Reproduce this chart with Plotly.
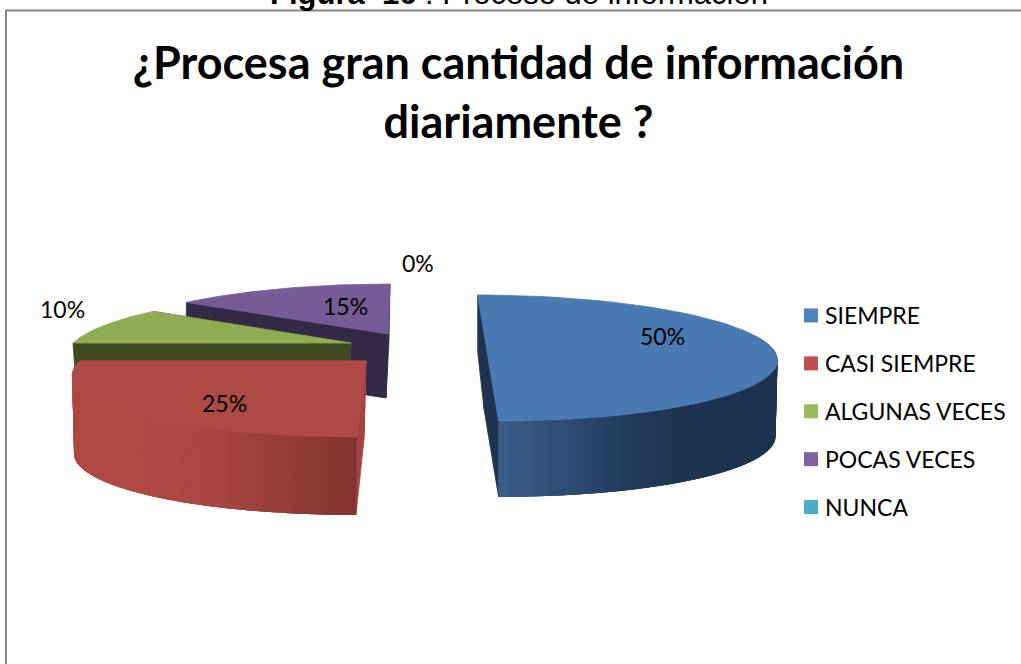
import math
import plotly.graph_objects as go

categories = ["SIEMPRE", "CASI SIEMPRE", "ALGUNAS VECES", "POCAS VECES", "NUNCA"]
values = [50, 25, 10, 15, 0]
legend_colors = ["#4f81bd", "#c0504d", "#9bbb59", "#8064a2", "#4bacc6"]
top_colors = ["#4a7ab2", "#ae4a45", "#8fac53", "#775b96", "#4bacc6"]
cut_colors = ["#1e3350", "#a5433f", "#3f4a20", "#352a46", "#1f4e5c"]
chart_title = "¿Procesa gran cantidad de información<br>diariamente ?"
figure_caption = "<b>Figura  16</b> : Proceso de información"

# Projection of the exploded 3-D pie (pixel-based canvas)
RY, P = 60.3, 0.206
APEX = [(486, 345, -10.0, 283), (366, 361, 7.15, 286), (351, 343, 5.0, 278), (388, 334, 2.4, 281), (388, 334, 0, 281)]
DEPTH = [76.0, 78.0, 30.0, 76.0, 76.0]
LOWER_DX = [(-2.0, 0.0), (-3.0, -1.0), (-2.0, 0.0), (0.0, -1.0), (0.0, 0.0)]
GRADIENT = {
    0: [(497, "#3c5f8c"), (640, "#21395a"), (680, "#1f3451"), (777, "#1e3350")],
    1: [(75, "#ae4843"), (200, "#ab4743"), (357, "#833331")],
}
LABEL_POS = [(662, 336), (224, 403), (62, 309), (345, 306), (418, 263)]


def depth(i, z):
    d = DEPTH[i]
    return d if z <= 0 else d - 19.0 * z


def pt(i, deg, lower=False):
    ax, ay, k, rx = APEX[i]
    th = math.radians(deg)
    X, Z = math.sin(th), math.cos(th)
    w = 1 + P * Z
    x = ax + (rx * X + k * Z) / w
    y = ay - RY * Z / w
    if lower:
        x += LOWER_DX[i][0] * X + LOWER_DX[i][1]
        y += depth(i, Z)
    return x, y


def hex2rgb(h):
    return tuple(int(h[j:j + 2], 16) for j in (1, 3, 5))


def grad_color(i, x):
    stops = GRADIENT[i]
    if x <= stops[0][0]:
        return stops[0][1]
    for (x0, c0), (x1, c1) in zip(stops, stops[1:]):
        if x <= x1:
            t = (x - x0) / (x1 - x0)
            a, b = hex2rgb(c0), hex2rgb(c1)
            return "rgb(%d,%d,%d)" % tuple(round(a[n] + (b[n] - a[n]) * t) for n in range(3))
    return stops[-1][1]


fig = go.Figure()


def poly(pts, color, lw=0.8):
    xs = [p[0] for p in pts] + [pts[0][0]]
    ys = [p[1] for p in pts] + [pts[0][1]]
    fig.add_trace(go.Scatter(x=xs, y=ys, mode="lines", fill="toself", fillcolor=color,
                             line=dict(color=color, width=lw), hoverinfo="skip", showlegend=False))


spans = []
acc = 0.0
for v in values:
    spans.append((acc * 3.6, (acc + v) * 3.6))
    acc += v

for i in [3, 2, 1, 0]:
    a0, a1 = spans[i]
    ax, ay, k, rx = APEX[i]
    apex_top = (ax, ay)
    apex_low = (ax - 2, ay + depth(i, 0) - (12 if i in (0, 3) else 0))
    for a in (a0, a1):
        poly([pt(i, a), apex_top, apex_low, pt(i, a, lower=True)], cut_colors[i])
    if i in GRADIENT:
        n = 140
        for s in range(n):
            b0 = a0 + (a1 - a0) * s / n
            b1 = a0 + (a1 - a0) * min(s + 3, n) / n
            if math.cos(math.radians(b0)) > 0.1 and math.cos(math.radians(b1)) > 0.1:
                continue
            if i == 1:
                b0 = a1 - (a1 - a0) * s / n
                b1 = a1 - (a1 - a0) * min(s + 3, n) / n
            p0, p1 = pt(i, b0), pt(i, b1)
            poly([p0, p1, pt(i, b1, lower=True), pt(i, b0, lower=True)], grad_color(i, p0[0]), lw=0)
    steps = 60
    rim = [pt(i, a0 + (a1 - a0) * s / steps) for s in range(steps + 1)]
    poly([apex_top] + rim, top_colors[i])

for c, col in zip(categories, legend_colors):
    fig.add_trace(go.Scatter(x=[None], y=[None], mode="markers", name=c, legendgroup=c,
                             marker=dict(symbol="square", size=14, color=col)))

annotations = [
    dict(x=518.5, y=13, text=figure_caption, showarrow=False, yanchor="bottom", xanchor="center",
         font=dict(family="Liberation Sans", size=31, color="#000"))
]
for v, (lx, ly) in zip(values, LABEL_POS):
    annotations.append(dict(x=lx, y=ly, text=f"{v}%", showarrow=False,
                            font=dict(family="Lato", size=23, color="#000")))

fig.update_layout(
    width=1021, height=664, autosize=False,
    margin=dict(l=0, r=0, t=0, b=0),
    paper_bgcolor="white", plot_bgcolor="white",
    xaxis=dict(range=[0, 1021], visible=False, fixedrange=True),
    yaxis=dict(range=[664, 0], visible=False, fixedrange=True),
    title=dict(text=chart_title, x=518.5 / 1021, xanchor="center", y=1 - 79 / 664, yanchor="middle",
               font=dict(family="Lato", size=45, color="#000", weight="bold")),
    legend=dict(x=785 / 1021, y=1 - 294 / 664, xanchor="left", yanchor="top", traceorder="grouped",
                tracegroupgap=15, font=dict(family="Lato", size=23, color="#000"), bgcolor="rgba(0,0,0,0)"),
    annotations=annotations,
    shapes=[dict(type="rect", xref="x", yref="y", x0=6, y0=10.5, x1=1060, y1=700,
                 line=dict(color="#868686", width=2), layer="below")],
)
fig.write_html(
    "out.html",
    config={"displayModeBar": False},
    post_script=(
        "document.body.style.margin='0';document.body.style.overflow='hidden';"
        "document.querySelectorAll('.legend .legendsymbols').forEach(function(g){g.setAttribute('transform','translate(6,0)');});"
    ),
)
